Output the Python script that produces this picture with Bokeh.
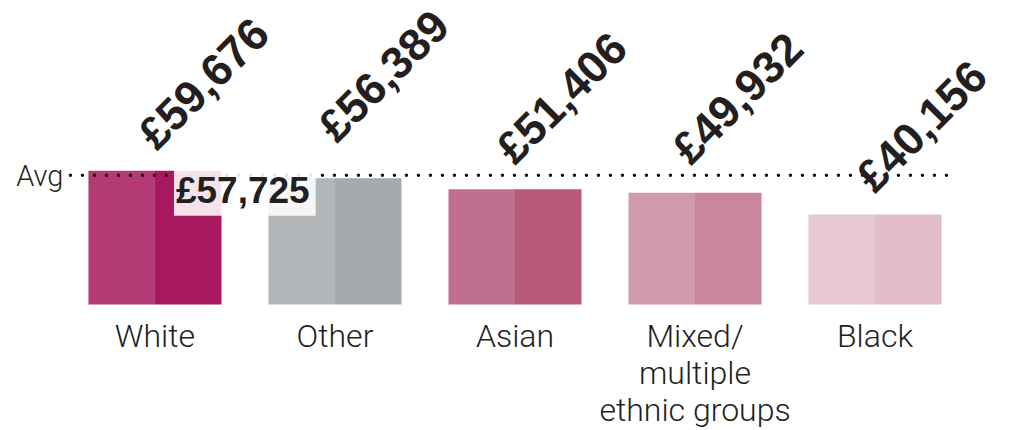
import math
from bokeh.plotting import figure
from bokeh.models import Range1d, ColumnDataSource
from bokeh.core.properties import value
from bokeh.embed import file_html
from bokeh.resources import INLINE

# ---- data ----
categories = ["White", "Other", "Asian", "Mixed/\nmultiple\nethnic groups", "Black"]
salaries = [59676, 56389, 51406, 49932, 40156]
average_salary = 57725

# ---- styles ----
colors_left = ["#b43a75", "#b2b6b9", "#c16f8f", "#d399ac", "#e7c7d0"]
colors_right = ["#a8185f", "#a6aaad", "#b8597c", "#c9879b", "#e2bcc8"]
label_dx = [-9, -9, -11, -15, -11]          # pixel nudges of rotated value labels
label_dy = [-30, -45, -34, -37, -31]
TXT = "#231f20"
LIGHT_FONT = value("Roboto Light")
BOLD_FONT = value("Liberation Sans")
BAR_W = 0.739
HALF = BAR_W / 2

xs = list(range(len(categories)))
value_labels = ["£{:,}".format(v) for v in salaries]

src = ColumnDataSource(dict(
    x=xs,
    xl=[x - HALF / 2 for x in xs],
    xr=[x + HALF / 2 for x in xs],
    top=salaries,
    cl=colors_left,
    cr=colors_right,
    lab=value_labels,
    cat=categories,
    dx=label_dx,
    dy=label_dy,
))

p = figure(width=1009, height=430, output_backend="svg", toolbar_location=None,
           x_range=Range1d(-0.858, 4.747), y_range=Range1d(-56246, 135706),
           x_axis_type=None, y_axis_type=None,
           min_border=0, min_border_left=0, min_border_right=0,
           min_border_top=0, min_border_bottom=0)
p.grid.visible = False
p.outline_line_color = None
p.background_fill_color = "white"
p.border_fill_color = "white"

# bars (two tones)
p.vbar(x="xl", width=HALF, top="top", bottom=0, fill_color="cl", line_color=None, source=src)
p.vbar(x="xr", width=HALF, top="top", bottom=0, fill_color="cr", line_color=None, source=src)

# average dotted line
line_x0 = xs[0] - HALF - 0.1
line_x1 = xs[-1] + HALF + 0.062
p.line(x=[line_x0, line_x1], y=[average_salary, average_salary], line_color="#111111",
       line_width=3.5, line_dash="0 12", line_cap="round")

p.text(x=[line_x0], y=[average_salary], text=["Avg"], text_align="right",
       text_baseline="alphabetic", x_offset=-7, y_offset=1,
       text_font=LIGHT_FONT, text_font_size="29px", text_color=TXT)

p.text(x=[xs[0]], y=[average_salary], text=["£{:,}".format(average_salary)],
       text_align="left", text_baseline="alphabetic", x_offset=19, y_offset=16,
       text_font=BOLD_FONT, text_font_style="bold", text_font_size="37px",
       text_color=TXT, background_fill_color="white", background_fill_alpha=0.88,
       padding=(2, 6, 3, 5))

# rotated value labels
p.text(x="x", y="top", text="lab", angle=math.pi / 4, x_offset="dx", y_offset="dy",
       text_align="left", text_baseline="alphabetic",
       text_font=BOLD_FONT, text_font_style="bold", text_font_size="45px",
       text_color=TXT, source=src)

# category labels
p.text(x="x", y=0, text="cat", text_align="center", text_baseline="top", y_offset=12,
       text_font=LIGHT_FONT, text_font_size="32px", text_color=TXT,
       text_line_height=0.98, source=src)

open("out.html", "w").write(file_html(p, INLINE))
